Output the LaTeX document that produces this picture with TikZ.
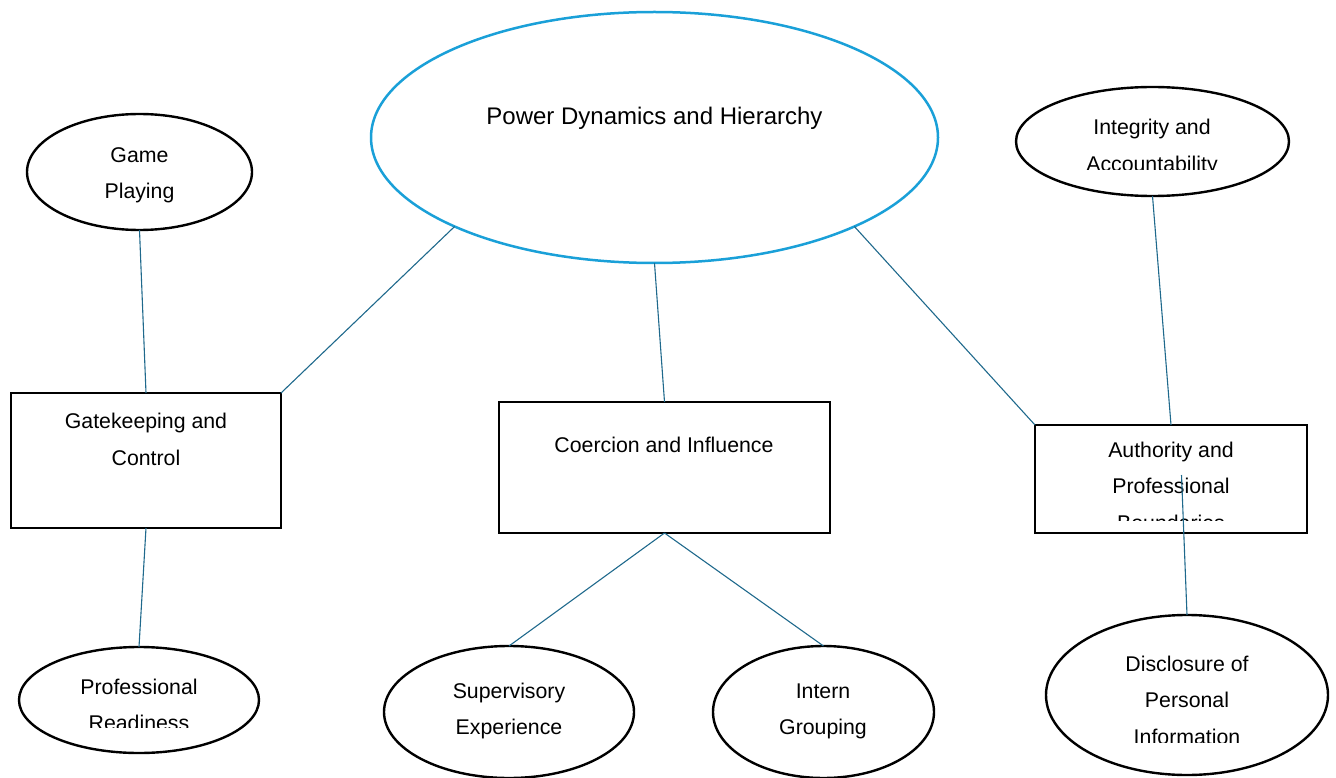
\documentclass[tikz,border=0pt]{standalone}
\usepackage{fontspec}
\setmainfont{Liberation Sans}
\usetikzlibrary{shapes.geometric}
\definecolor{conncol}{RGB}{31,105,140}
\definecolor{titleblue}{RGB}{26,160,216}
\tikzset{
 oval/.style={ellipse, draw=black, line width=2.4pt, fill=white, inner sep=0pt, outer sep=0pt},
 boxnode/.style={rectangle, draw=black, line width=2.6pt, fill=white, inner sep=0pt, outer sep=0pt},
 conn/.style={draw=conncol, line width=1.1pt},
 lbl/.style={font=\fontsize{21.3}{36.5}\selectfont, align=center, inner sep=0pt, text=black},
 titlelbl/.style={font=\fontsize{24}{30}\selectfont, align=center, inner sep=0pt, text=black},
}
\begin{document}
\begin{tikzpicture}[x=1pt,y=-1pt]
\useasboundingbox (0,0) rectangle (1336,778);
% shapes
\node[oval, draw=titleblue, line width=2.5pt, minimum width=567pt, minimum height=251pt] (title) at (654.5,137.5) {};
\node[oval, minimum width=225pt, minimum height=116pt] (game) at (139.5,172) {};
\node[oval, minimum width=273pt, minimum height=109pt] (integ) at (1152.5,141.5) {};
\node[boxnode, minimum width=270pt, minimum height=135pt] (gate) at (146,460.5) {};
\node[boxnode, minimum width=331pt, minimum height=131pt] (coer) at (664.5,467.5) {};
\node[boxnode, minimum width=272pt, minimum height=108pt] (auth) at (1171,479) {};
\node[oval, minimum width=240pt, minimum height=106pt] (ready) at (139,700) {};
\node[oval, minimum width=250pt, minimum height=132pt] (super) at (509,712) {};
\node[oval, minimum width=221pt, minimum height=132pt] (intern) at (823.5,712) {};
\node[oval, minimum width=282pt, minimum height=160pt] (disc) at (1187,695) {};
\coordinate (authin) at (1181.5,475);
% connectors
\draw[conn] (title.204) -- (gate.north east);
\draw[conn] (title.south) -- (coer.north);
\draw[conn] (title.336) -- (auth.north west);
\draw[conn] (game.south) -- (gate.north);
\draw[conn] (gate.south) -- (ready.north);
\draw[conn] (coer.south) -- (super.north);
\draw[conn] (coer.south) -- (intern.north);
\draw[conn] (integ.south) -- (auth.north);
% texts
\node[titlelbl] (titleT) at (654.5,118) {Power Dynamics and Hierarchy};
\node[lbl] (gameT) at (139.5,175.5) {Game\\Playing};
\begin{scope}
\clip (1000,80) rectangle (1300,170);
\node[lbl] (integT) at (1152,147.5) {Integrity and\\Accountability};
\end{scope}
\node[lbl] (gateT) at (146,439.5) {Gatekeeping and\\Control};
\node[lbl] (coerT) at (664,445) {Coercion and Influence};
\begin{scope}
\clip (1040,430) rectangle (1300,520);
\node[lbl] (authT) at (1171,486) {Authority and\\Professional\\Boundaries};
\end{scope}
\begin{scope}
\clip (20,650) rectangle (258,727);
\node[lbl] (readyT) at (139,705) {Professional\\Readiness};
\end{scope}
\node[lbl] (superT) at (509,711) {Supervisory\\Experience};
\node[lbl] (internT) at (823,711.5) {Intern\\Grouping};
\begin{scope}
\clip (1050,620) rectangle (1325,742);
\node[lbl] (discT) at (1187,700) {Disclosure of\\Personal\\Information};
\end{scope}
\draw[conn] (authin) -- (disc.north);
\end{tikzpicture}
\end{document}
